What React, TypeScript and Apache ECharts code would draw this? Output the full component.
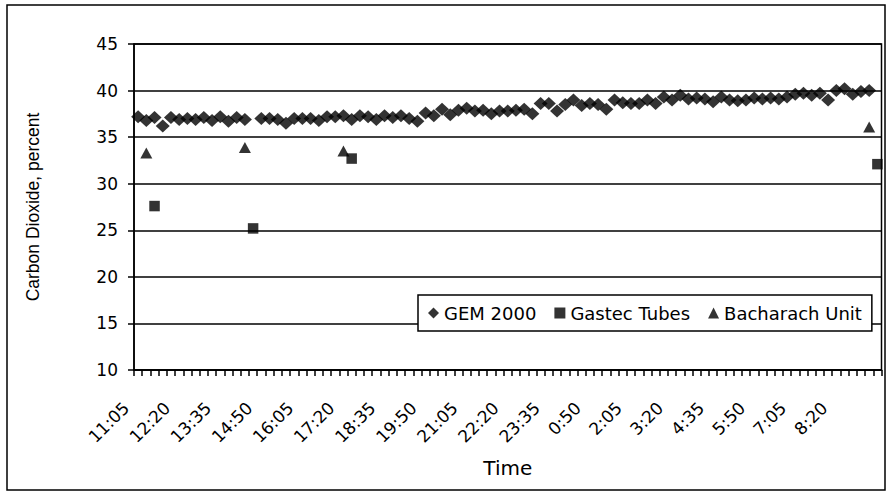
import React, { useEffect, useRef } from "react";
import * as echarts from "echarts";

const times = [
  "11:05", "11:20", "11:35", "11:50", "12:05", "12:20", "12:35", "12:50", "13:05", "13:20",
  "13:35", "13:50", "14:05", "14:20", "14:35", "14:50", "15:05", "15:20", "15:35", "15:50",
  "16:05", "16:20", "16:35", "16:50", "17:05", "17:20", "17:35", "17:50", "18:05", "18:20",
  "18:35", "18:50", "19:05", "19:20", "19:35", "19:50", "20:05", "20:20", "20:35", "20:50",
  "21:05", "21:20", "21:35", "21:50", "22:05", "22:20", "22:35", "22:50", "23:05", "23:20",
  "23:35", "23:50", "0:05", "0:20", "0:35", "0:50", "1:05", "1:20", "1:35", "1:50",
  "2:05", "2:20", "2:35", "2:50", "3:05", "3:20", "3:35", "3:50", "4:05", "4:20",
  "4:35", "4:50", "5:05", "5:20", "5:35", "5:50", "6:05", "6:20", "6:35", "6:50",
  "7:05", "7:20", "7:35", "7:50", "8:05", "8:20", "8:35", "8:50", "9:05", "9:20",
  "9:35",
];

const gem2000: (number | null)[] = [
  37.2, 36.8, 37.1, 36.2, 37.1, 36.9, 37.0, 36.9, 37.1, 36.8,
  37.2, 36.7, 37.1, 36.9, null, 37.0, 37.0, 36.9, 36.5, 37.0,
  37.0, 37.0, 36.8, 37.2, 37.2, 37.3, 36.9, 37.3, 37.2, 36.9,
  37.3, 37.1, 37.3, 37.0, 36.7, 37.6, 37.3, 38.0, 37.4, 37.9,
  38.1, 37.8, 37.9, 37.5, 37.8, 37.8, 37.9, 38.0, 37.5, 38.6,
  38.6, 37.8, 38.5, 39.0, 38.4, 38.6, 38.5, 38.0, 39.0, 38.7,
  38.6, 38.6, 39.0, 38.6, 39.3, 39.0, 39.5, 39.1, 39.2, 39.1,
  38.8, 39.3, 39.0, 38.9, 39.0, 39.2, 39.1, 39.2, 39.1, 39.3,
  39.6, 39.7, 39.5, 39.7, 39.0, 40.0, 40.2, 39.6, 39.9, 40.0,
  null,
];

const gastecTimes = ["11:35", "14:35", "17:35", "9:35"];
const gastecValues = [27.6, 25.2, 32.7, 32.1];

const bacharachTimes = ["11:20", "14:20", "17:20", "9:20"];
const bacharachValues = [33.3, 33.9, 33.5, 36.1];

const yMin = 10;
const yMax = 45;
const yStep = 5;

const sans = "DejaVu Sans";

export default function App() {
  const ref = useRef<HTMLDivElement>(null);

  useEffect(() => {
    if (!ref.current) return;
    const chart = echarts.init(ref.current, undefined, { renderer: "svg" });

    const gemData = times
      .map((t, i) => [t, gem2000[i]])
      .filter((d) => d[1] !== null);
    const gastecData = gastecTimes.map((t, i) => [t, gastecValues[i]]);
    const bachData = bacharachTimes.map((t, i) => [t, bacharachValues[i]]);

    chart.setOption({
      animation: false,
      backgroundColor: "#fff",
      graphic: [
        {
          type: "rect",
          silent: true,
          z: 0,
          shape: { x: 7, y: 5, width: 878, height: 485 },
          style: { fill: "transparent", stroke: "#000", lineWidth: 1.5 },
        },
      ],
      grid: {
        left: 134,
        top: 44,
        width: 747.5,
        height: 326,
        show: true,
        borderColor: "#000",
        borderWidth: 1.5,
        backgroundColor: "transparent",
      },
      legend: {
        left: 418,
        top: 295,
        orient: "horizontal",
        backgroundColor: "#fff",
        borderColor: "#000",
        borderWidth: 1.5,
        borderRadius: 0,
        padding: [9, 10, 9, 10],
        itemGap: 18,
        itemWidth: 11,
        itemHeight: 11,
        textStyle: { fontFamily: sans, fontSize: 18, color: "#000" },
        data: [
          { name: "GEM 2000", icon: "diamond" },
          { name: "Gastec Tubes", icon: "rect" },
          { name: "Bacharach Unit", icon: "triangle" },
        ],
      },
      xAxis: {
        type: "category",
        data: times,
        boundaryGap: true,
        name: "Time",
        nameLocation: "middle",
        nameGap: 88,
        nameTextStyle: { fontFamily: sans, fontSize: 20, color: "#000" },
        axisLine: { show: true, lineStyle: { color: "#000", width: 1.5 } },
        axisTick: {
          show: true,
          interval: 0,
          length: 6,
          alignWithLabel: false,
          lineStyle: { color: "#000", width: 1.5 },
        },
        axisLabel: {
          interval: (index: number) => index % 5 === 0 && index < 90,
          rotate: 45,
          margin: 23,
          padding: [0, 17, 0, 0],
          fontFamily: sans,
          fontSize: 17,
          color: "#000",
        },
        splitLine: { show: false },
      },
      yAxis: {
        type: "value",
        min: yMin,
        max: yMax,
        interval: yStep,
        name: "Carbon Dioxide, percent",
        nameLocation: "middle",
        nameGap: 92,
        nameTextStyle: { fontFamily: "Liberation Sans", fontSize: 17.5, color: "#000" },
        axisLine: { show: true, lineStyle: { color: "#000", width: 1.5 } },
        axisTick: { show: true, length: 6, lineStyle: { color: "#000", width: 1.5 } },
        axisLabel: { margin: 16, fontFamily: sans, fontSize: 17, color: "#000" },
        splitLine: { show: true, lineStyle: { color: "#000", width: 1.5 } },
      },
      series: [
        {
          name: "GEM 2000",
          type: "scatter",
          data: gemData,
          symbol: "diamond",
          symbolSize: [14, 13],
          itemStyle: { color: "#000" },
          z: 2,
        },
        {
          name: "Bacharach Unit",
          type: "scatter",
          data: bachData,
          symbol: "triangle",
          symbolSize: [12, 11],
          itemStyle: { color: "#000" },
          z: 3,
        },
        {
          name: "Gastec Tubes",
          type: "scatter",
          data: gastecData,
          symbol: "rect",
          symbolSize: [10.5, 10.5],
          itemStyle: { color: "#000" },
          z: 4,
        },
      ],
    });

    return () => chart.dispose();
  }, []);

  return (
    <div
      ref={ref}
      style={{ position: "absolute", left: 0, top: 0, width: 886, height: 491 }}
    />
  );
}
